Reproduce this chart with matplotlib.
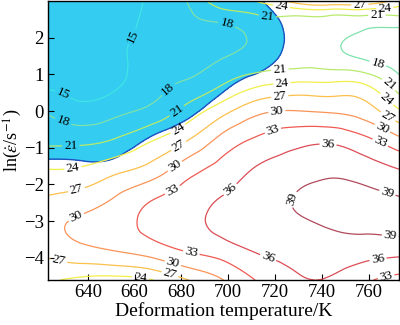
import numpy as np
import matplotlib
matplotlib.use("Agg")
import matplotlib.pyplot as plt
import matplotlib.tri as mtri

plt.rcParams["font.family"] = ["Liberation Serif", "DejaVu Serif"]
plt.rcParams["mathtext.fontset"] = "stix"

# deformation temperature (K) and ln(strain rate) grid
temps = [623, 638, 653, 668, 683, 698, 713, 728, 743, 758, 773]
ln_rates = [2.996, 2.615, 2.235, 1.475, 0.715, -0.045, -0.805,
            -1.565, -2.325, -3.085, -3.845, -4.605]

# power dissipation efficiency eta (%), one row per ln_rates entry
eta = [
    [11.0, 12.0, 13.5, 15.6, 18.2, 23.0, 24.2, 28.0, 30.0, 29.5, 25.8],
    [11.6, 12.5, 13.7, 15.8, 17.6, 19.6, 21.0, 21.2, 21.2, 21.2, 21.2],
    [12.3, 13.0, 14.0, 16.0, 17.0, 17.4, 19.0, 19.6, 19.2, 18.1, 17.7],
    [13.5, 14.0, 14.5, 16.5, 16.9, 17.9, 19.0, 19.4, 19.0, 17.6, 16.6],
    [14.6, 14.2, 14.8, 17.0, 18.6, 21.1, 23.6, 24.6, 24.6, 24.2, 19.4],
    [17.8, 16.2, 17.5, 19.2, 22.5, 26.4, 29.6, 30.4, 30.0, 28.8, 24.8],
    [20.4, 20.3, 21.5, 24.0, 27.1, 31.2, 33.6, 35.0, 35.5, 33.9, 30.9],
    [23.9, 24.3, 26.1, 28.2, 31.7, 34.1, 36.3, 37.5, 38.2, 37.4, 35.9],
    [27.1, 28.1, 30.2, 32.6, 34.4, 36.1, 37.7, 39.0, 40.1, 39.8, 39.0],
    [29.1, 30.6, 31.8, 34.0, 35.2, 37.0, 38.2, 38.4, 39.3, 39.7, 40.0],
    [27.6, 29.0, 29.9, 31.2, 33.0, 34.3, 36.2, 36.9, 37.5, 37.2, 36.8],
    [24.4, 23.2, 22.8, 24.0, 27.0, 30.0, 33.3, 35.5, 35.8, 33.6, 32.0],
]

# instability parameter xi (negative = unstable, blue region)
xi = [
    [-7.9, -8.0, -7.7, -6.7, -4.5, -2.0, -0.2, 1.5, 3.3, 5.0, 6.7],
    [-7.2, -7.3, -7.0, -6.0, -4.1, -2.2, -0.8, 0.9, 2.7, 4.5, 6.2],
    [-6.5, -6.6, -6.3, -5.3, -3.7, -2.4, -1.2, 0.55, 2.2, 4.0, 5.8],
    [-5.1, -5.2, -4.9, -3.9, -2.6, -1.5, -0.8, 0.7, 2.2, 3.9, 5.6],
    [-3.7, -3.8, -3.5, -2.5, -1.4, -0.3, 0.7, 1.5, 2.8, 4.4, 6.0],
    [-2.3, -2.4, -2.1, -1.15, -0.25, 1.0, 2.1, 2.6, 3.8, 5.2, 6.7],
    [-0.9, -1.0, -0.75, 0.25, 0.9, 2.3, 3.5, 3.9, 5.0, 6.2, 7.6],
    [0.45, 0.38, 0.6, 1.6, 2.1, 3.5, 4.9, 5.2, 6.2, 7.3, 8.6],
    [1.85, 1.8, 2.0, 3.0, 3.3, 4.8, 6.3, 6.5, 7.5, 8.5, 9.7],
    [3.25, 3.2, 3.4, 4.4, 4.5, 6.0, 7.6, 7.8, 8.7, 9.7, 10.8],
    [4.65, 4.6, 4.8, 5.8, 5.7, 7.2, 9.0, 9.1, 10.0, 11.0, 12.0],
    [6.0, 6.0, 6.2, 7.2, 6.9, 8.4, 10.3, 10.4, 11.2, 12.2, 13.2],
]

levels = [15, 18, 21, 24, 27, 30, 33, 36, 39]
level_colors = ["#3ee6e6", "#7ee2aa", "#b8ea6c", "#f2ee4a", "#fbc04c",
                "#f99458", "#ee5a52", "#dc4c56", "#b04a5c"]

label_pos = [
    (660.6, 1.99), (628.6, 0.35),
    (698.6, 2.18), (673.9, 0.63), (628.6, -0.44), (764.0, 1.31),
    (716.6, 2.51), (763.6, 2.51), (678.1, 0.0), (632.8, -1.04),
    (722.1, 1.14), (767.0, 0.60),
    (722.5, 2.74), (767.0, 2.78), (678.6, -0.49), (633.7, -1.58),
    (723.0, 0.74), (767.0, 0.27), (662.7, -4.50),
    (756.3, 2.84), (679.4, -1.01), (635.0, -2.10), (722.1, 0.35),
    (767.9, -0.19), (627.3, -4.17), (675.1, -4.44),
    (677.7, -1.55), (635.8, -3.00), (720.9, -0.06), (765.7, -0.49),
    (676.4, -4.14),
    (676.4, -2.18), (719.2, -0.55), (764.9, -0.87), (684.1, -3.90),
    (767.0, -4.36),
    (700.8, -2.13), (742.7, -0.87), (717.0, -4.01), (764.0, -4.03),
    (727.3, -2.40), (767.9, -2.26), (769.2, -3.46),
]

T, L = np.meshgrid(np.array(temps, float), np.array(ln_rates, float))
ETA = np.array(eta)
XI = np.array(xi)

# triangulate in roughly pixel-proportional space so the cubic fit is isotropic
sx, sy = 351 / 150.0, 279 / 7.601
tri = mtri.Triangulation(((T - 623) * sx).ravel(), ((L + 4.605) * sy).ravel())
refiner = mtri.UniformTriRefiner(tri)
fine, eta_f = refiner.refine_field(ETA.ravel(),
                                   mtri.CubicTriInterpolator(tri, ETA.ravel(), kind="min_E"),
                                   subdiv=4)
_, xi_f = refiner.refine_field(XI.ravel(),
                               mtri.CubicTriInterpolator(tri, XI.ravel(), kind="min_E"),
                               subdiv=4)
tri_d = mtri.Triangulation(fine.x / sx + 623, fine.y / sy - 4.605, fine.triangles)

fig = plt.figure(figsize=(4.0, 3.25), dpi=100)
ax = fig.add_axes([0.12, 0.1385, 0.8775, 0.858])

ax.tricontourf(tri_d, xi_f, levels=[-100, 0], colors=["#34ccf0"])
ax.tricontour(tri_d, xi_f, levels=[0], colors=["#2050c0"], linewidths=1.0)
cs = ax.tricontour(tri_d, eta_f, levels=levels, colors=level_colors, linewidths=0.9)
ax.clabel(cs, manual=label_pos, fmt="%d", fontsize=9.5, colors="k",
          inline=True, inline_spacing=2)

ax.set_xlim(623, 773)
ax.set_ylim(-4.605, 2.996)
ax.set_xticks([640, 660, 680, 700, 720, 740, 760])
ax.set_yticks([-4, -3, -2, -1, 0, 1, 2])
ax.tick_params(direction="in", length=4, width=0.8, labelsize=13.5, pad=3,
               top=False, right=False)
for s in ax.spines.values():
    s.set_linewidth(1.0)
ax.set_xlabel("Deformation temperature/K", fontsize=14, labelpad=1)
ax.set_ylabel(r"ln($\dot{\varepsilon}$/s$^{-1}$)", fontsize=13)
ax.yaxis.set_label_coords(-0.068, 0.5)

fig.savefig("out.png", dpi=100)
